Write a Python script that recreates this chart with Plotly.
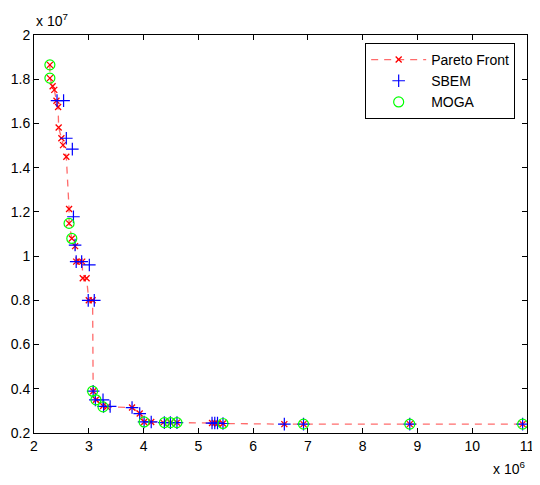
import plotly.graph_objects as go

# Values in units: x in 1e6, y in 1e7
pareto_x = [2.29, 2.29, 2.34, 2.37, 2.41, 2.44, 2.45, 2.50, 2.53, 2.59, 2.64, 2.64, 2.69, 2.75,
            2.77, 2.83, 2.88, 2.89, 2.96, 3.00, 3.07, 3.08, 3.13, 3.26, 3.33, 3.79, 3.93, 4.01,
            4.14, 4.36, 4.49, 4.61, 5.25, 5.30, 5.35, 5.45, 6.57, 6.92, 8.86, 10.92]
pareto_y = [1.865, 1.805, 1.768, 1.752, 1.703, 1.674, 1.582, 1.533, 1.502, 1.449, 1.213, 1.148,
            1.080, 1.045, 0.975, 0.975, 0.975, 0.900, 0.900, 0.800, 0.800, 0.389, 0.350, 0.322,
            0.318, 0.315, 0.288, 0.250, 0.250, 0.247, 0.247, 0.247, 0.245, 0.245, 0.243, 0.243,
            0.240, 0.240, 0.240, 0.240]

sbem_x = [2.42, 2.54, 2.59, 2.70, 2.72, 2.75, 2.77, 2.87, 3.01, 2.99, 3.10, 3.08, 3.12, 3.26,
          3.27, 3.39, 3.79, 3.93, 4.01, 4.14, 4.38, 4.49, 4.61, 5.25, 5.30, 5.35, 5.45, 6.57,
          6.92, 8.86, 10.92]
sbem_y = [1.703, 1.703, 1.533, 1.484, 1.178, 1.050, 0.975, 0.975, 0.960, 0.800, 0.800, 0.389,
          0.350, 0.350, 0.320, 0.320, 0.315, 0.288, 0.250, 0.250, 0.247, 0.247, 0.247, 0.245,
          0.245, 0.245, 0.243, 0.240, 0.240, 0.240, 0.240]

moga_x = [2.29, 2.29, 2.64, 2.69, 3.07, 3.13, 3.26, 4.01, 4.38, 4.49, 4.61, 5.45, 6.92, 8.86, 10.92]
moga_y = [1.865, 1.805, 1.148, 1.080, 0.389, 0.350, 0.318, 0.250, 0.247, 0.247, 0.247, 0.243,
          0.240, 0.240, 0.240]

x_ticks = [2, 3, 4, 5, 6, 7, 8, 9, 10, 11]
y_ticks = [0.2, 0.4, 0.6, 0.8, 1.0, 1.2, 1.4, 1.6, 1.8, 2.0]
y_tick_text = ["0.2", "0.4", "0.6", "0.8", "1", "1.2", "1.4", "1.6", "1.8", "2"]

fig = go.Figure()
fig.add_trace(go.Scatter(
    x=pareto_x, y=pareto_y, mode="lines+markers", name="Pareto Front",
    line=dict(color="rgba(255,70,70,0.8)", width=1.3, dash="7px,6px"),
    marker=dict(symbol="x-thin", size=6, line=dict(color="red", width=1.3), color="red"),
))
fig.add_trace(go.Scatter(
    x=sbem_x, y=sbem_y, mode="markers", name="SBEM",
    marker=dict(symbol="cross-thin", size=9, line=dict(color="blue", width=1.2), color="blue"),
))
fig.add_trace(go.Scatter(
    x=moga_x, y=moga_y, mode="markers", name="MOGA",
    marker=dict(symbol="circle-open", size=10, line=dict(color="rgb(0,255,0)", width=1.2),
                color="rgb(0,255,0)"),
))

axis_common = dict(
    showgrid=False, zeroline=False, showline=True, linecolor="black", linewidth=1,
    mirror="ticks", ticks="inside", ticklen=5, tickcolor="black", automargin=False,
    tickfont=dict(family="Liberation Sans, Arial", size=14, color="black"),
)
fig.update_xaxes(range=[2, 11], tickvals=x_ticks, ticktext=[str(v) for v in x_ticks], **axis_common)
fig.update_yaxes(range=[0.2, 2.0], tickvals=y_ticks, ticktext=y_tick_text, **axis_common)

fig.update_layout(
    width=532, height=477,
    margin=dict(l=26, r=13, t=27, b=52, autoexpand=False),
    paper_bgcolor="white", plot_bgcolor="white",
    font=dict(family="Liberation Sans, Arial", size=14, color="black"),
    showlegend=True,
    legend=dict(x=0.976, y=0.98, xanchor="right", yanchor="top",
                bordercolor="black", borderwidth=1, bgcolor="white",
                font=dict(size=14), tracegroupgap=0, itemwidth=55),
    annotations=[
        dict(text="x 10<sup>7</sup>", xref="paper", yref="paper", x=0.0, y=1.0,
             xanchor="left", yanchor="bottom", yshift=4, showarrow=False,
             font=dict(size=14)),
        dict(text="x 10<sup>6</sup>", xref="paper", yref="paper", x=1.0, y=0.0,
             xanchor="right", yanchor="top", yshift=-24, xshift=0, showarrow=False,
             font=dict(size=14)),
    ],
)

fig.write_html("out.html")
